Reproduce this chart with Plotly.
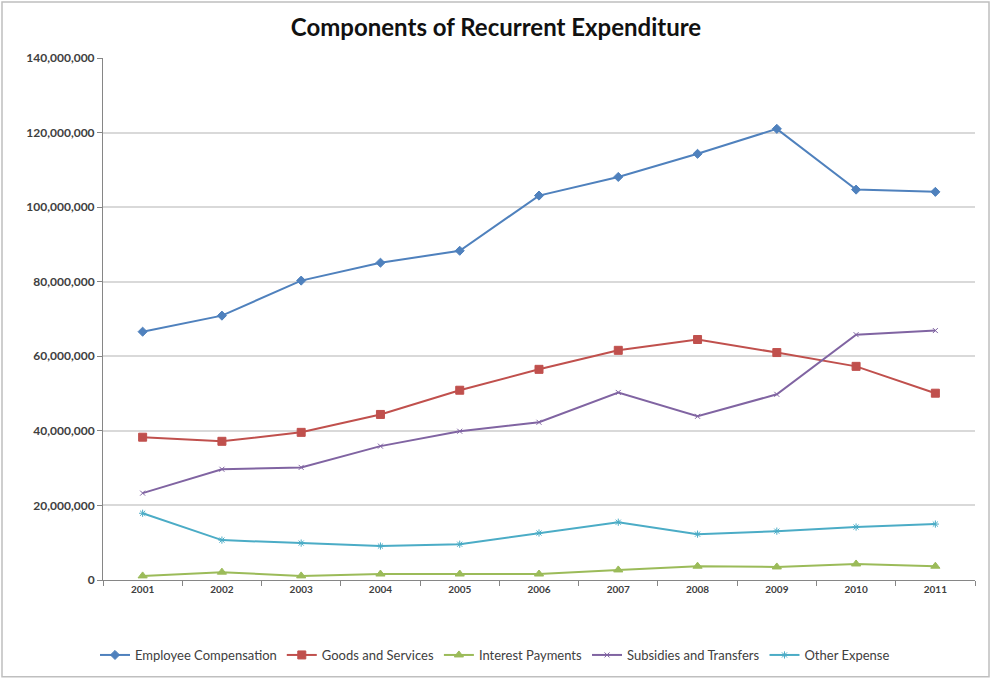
import plotly.graph_objects as go

years = [2001, 2002, 2003, 2004, 2005, 2006, 2007, 2008, 2009, 2010, 2011]

employee_compensation = [66.6e6, 70.9e6, 80.3e6, 85.1e6, 88.3e6, 103.1e6, 108.1e6, 114.3e6, 121.0e6, 104.7e6, 104.1e6]
goods_and_services = [38.3e6, 37.2e6, 39.6e6, 44.4e6, 50.9e6, 56.5e6, 61.6e6, 64.5e6, 61.0e6, 57.3e6, 50.1e6]
interest_payments = [1.1e6, 2.1e6, 1.1e6, 1.6e6, 1.6e6, 1.6e6, 2.7e6, 3.7e6, 3.5e6, 4.3e6, 3.7e6]
subsidies_and_transfers = [23.3e6, 29.7e6, 30.2e6, 35.9e6, 39.9e6, 42.3e6, 50.3e6, 43.9e6, 49.8e6, 65.8e6, 66.9e6]
other_expense = [17.9e6, 10.7e6, 9.9e6, 9.1e6, 9.6e6, 12.6e6, 15.5e6, 12.3e6, 13.1e6, 14.2e6, 15.0e6]

y_ticks = [0, 20e6, 40e6, 60e6, 80e6, 100e6, 120e6, 140e6]
y_tick_labels = ["0", "20,000,000", "40,000,000", "60,000,000", "80,000,000",
                 "100,000,000", "120,000,000", "140,000,000"]

series = [
    ("Employee Compensation", employee_compensation, "#4F81BD", "diamond", 7),
    ("Goods and Services", goods_and_services, "#C0504D", "square", 8),
    ("Interest Payments", interest_payments, "#9BBB59", "triangle-up", 8),
    ("Subsidies and Transfers", subsidies_and_transfers, "#8064A2", "x-thin-open", 5),
    ("Other Expense", other_expense, "#4BACC6", "asterisk-open", 6),
]

fig = go.Figure()
for name, vals, color, symbol, size in series:
    fig.add_trace(go.Scatter(
        x=years, y=vals, name=name, mode="lines+markers",
        line=dict(color=color, width=2),
        marker=dict(symbol=symbol, size=size, color=color,
                    line=dict(color=color, width=1)),
    ))

L, R, T, B = 103, 17, 58, 100
W, H = 992, 681
pw, ph = W - L - R, H - T - B

fig.update_layout(
    width=W, height=H,
    margin=dict(l=L, r=R, t=T, b=B),
    paper_bgcolor="white", plot_bgcolor="white",
    font=dict(family="Lato, 'Liberation Sans', sans-serif", color="#404040"),
    title=dict(text="<b>Components of Recurrent Expenditure</b>",
               x=0.5, xref="container", xanchor="center",
               y=1 - 28 / H, yanchor="middle",
               font=dict(size=24, color="#111111")),
    showlegend=True,
    legend=dict(orientation="h", x=(495 - L) / pw, xanchor="center",
                y=-(655 - 581) / ph, yanchor="middle",
                font=dict(size=13, color="#404040"),
                itemwidth=30, tracegroupgap=0),
    xaxis=dict(
        range=[2000.5, 2011.5], tickmode="array", tickvals=years,
        ticktext=[f"<b>{y}</b>" for y in years], ticks="", showgrid=False,
        showline=True, linecolor="#868686", linewidth=1,
        tickfont=dict(size=10, color="#404040"),
        minor=dict(ticks="outside", tick0=2000.5, dtick=1, ticklen=5,
                   tickcolor="#868686", showgrid=False),
        zeroline=False,
    ),
    yaxis=dict(
        range=[0, 140e6], tickmode="array", tickvals=y_ticks,
        ticktext=[f"<b>{t}</b>" for t in y_tick_labels],
        showgrid=True, gridcolor="#D9D9D9", gridwidth=1.5,
        showline=True, linecolor="#868686", linewidth=1,
        ticks="outside", ticklen=5, tickcolor="#868686",
        tickfont=dict(size=12, color="#404040"), zeroline=False,
    ),
    shapes=[dict(type="rect", xref="paper", yref="paper",
                 x0=(2 - L) / pw, x1=(W - 3 - L) / pw,
                 y0=-(H - 3 - (H - B)) / ph, y1=1 + (T - 2) / ph,
                 line=dict(color="#BFBFBF", width=1.5), fillcolor="rgba(0,0,0,0)",
                 layer="below")],
)

fig.write_html("out.html")
